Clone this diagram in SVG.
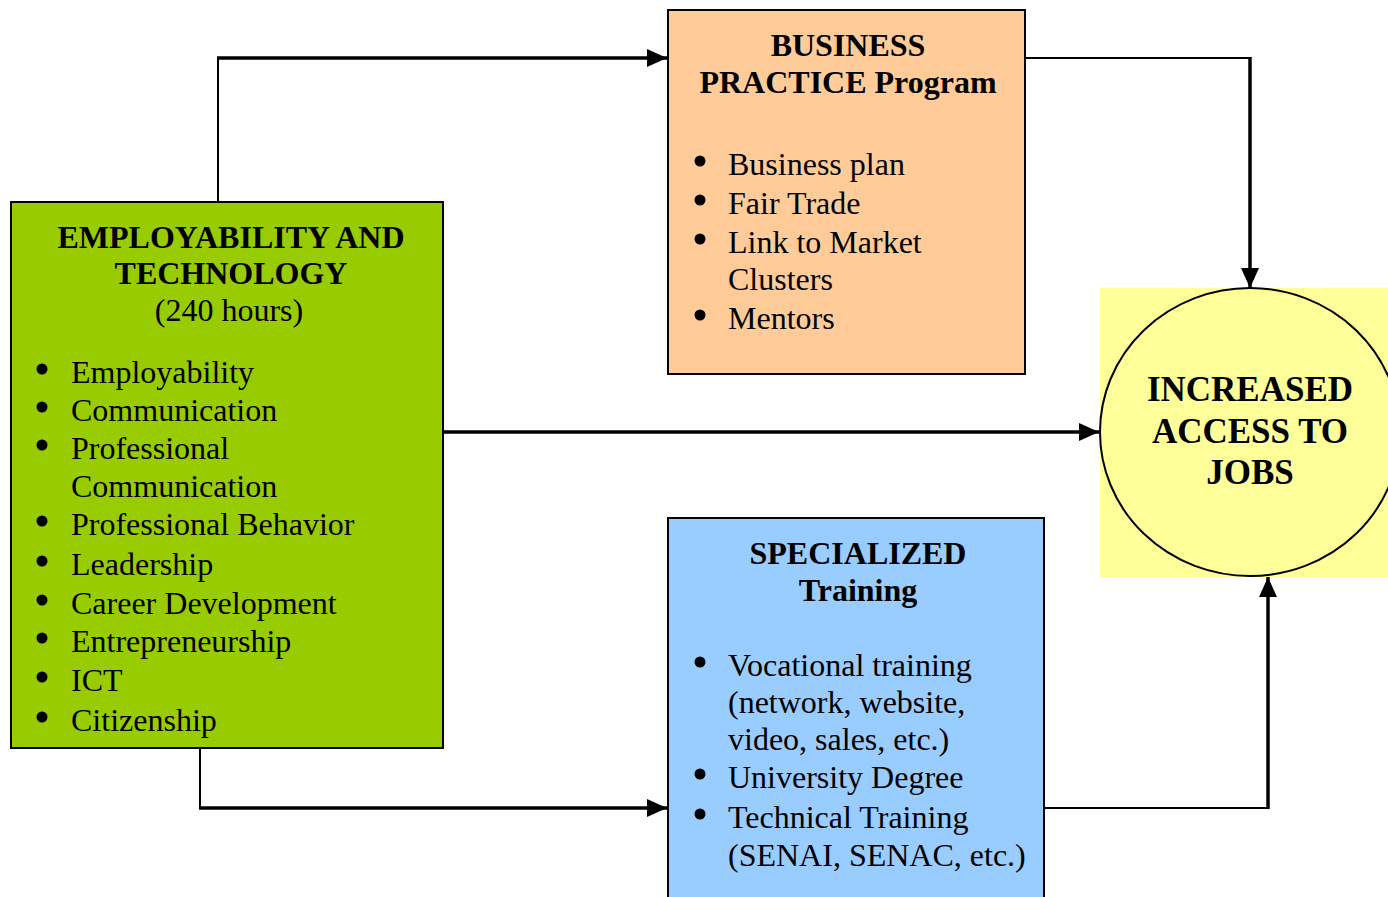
<svg xmlns="http://www.w3.org/2000/svg" width="1388" height="897" viewBox="0 0 1388 897">
<defs>
<marker id="arrb" markerWidth="20" markerHeight="20" refX="20" refY="10" orient="auto" markerUnits="userSpaceOnUse" viewBox="0 0 20 20">
<path d="M0,1 L20,10 L0,19 Z" fill="#000"/>
</marker>
</defs>
<style>
.box{stroke:#000;stroke-width:2}
.t{font-family:"Liberation Serif","Times New Roman",serif;fill:#000}
.h{font-weight:bold;font-size:32px;text-anchor:middle}
.b{font-size:32px}
.j{font-weight:bold;font-size:35px;text-anchor:middle}
.c{fill:none;stroke:#000}
.dot{fill:#000}
</style>
<rect width="1388" height="897" fill="#fff"/>
<g id="connectors">
<path class="c" stroke-width="2" d="M218,202 V58"/>
<path class="c" stroke-width="3.5" d="M217,58 H667" marker-end="url(#arrb)"/>
<path class="c" stroke-width="2" d="M1025,58 H1250"/>
<path class="c" stroke-width="3.5" d="M1250,57 V288" marker-end="url(#arrb)"/>
<path class="c" stroke-width="3.5" d="M443,432 H1099" marker-end="url(#arrb)"/>
<path class="c" stroke-width="2" d="M200,748 V808"/>
<path class="c" stroke-width="3.5" d="M199,808 H667" marker-end="url(#arrb)"/>
<path class="c" stroke-width="2" d="M1044,808 H1268"/>
<path class="c" stroke-width="3.5" d="M1268,809 V577" marker-end="url(#arrb)"/>
</g>
<g id="employability">
<rect class="box" x="11" y="202" width="432" height="546" fill="#99CC00"/>
<text class="t h" x="231" y="248">EMPLOYABILITY AND</text>
<text class="t h" x="231" y="284">TECHNOLOGY</text>
<text class="t b" x="229" y="321" text-anchor="middle">(240 hours)</text>
<g class="dot">
<circle cx="42" cy="369" r="5.5"/>
<circle cx="42" cy="407" r="5.5"/>
<circle cx="42" cy="445" r="5.5"/>
<circle cx="42" cy="521" r="5.5"/>
<circle cx="42" cy="561" r="5.5"/>
<circle cx="42" cy="600" r="5.5"/>
<circle cx="42" cy="638" r="5.5"/>
<circle cx="42" cy="677" r="5.5"/>
<circle cx="42" cy="717" r="5.5"/>
</g>
<g class="t b">
<text x="71" y="383">Employability</text>
<text x="71" y="421">Communication</text>
<text x="71" y="459">Professional</text>
<text x="71" y="497">Communication</text>
<text x="71" y="535">Professional Behavior</text>
<text x="71" y="575">Leadership</text>
<text x="71" y="614">Career Development</text>
<text x="71" y="652">Entrepreneurship</text>
<text x="71" y="691">ICT</text>
<text x="71" y="731">Citizenship</text>
</g>
</g>
<g id="business">
<rect class="box" x="668" y="10" width="357" height="364" fill="#FFCC99"/>
<text class="t h" x="848" y="56">BUSINESS</text>
<text class="t h" x="848" y="93">PRACTICE Program</text>
<g class="dot">
<circle cx="700" cy="161" r="5.5"/>
<circle cx="700" cy="200" r="5.5"/>
<circle cx="700" cy="239" r="5.5"/>
<circle cx="700" cy="315" r="5.5"/>
</g>
<g class="t b">
<text x="728" y="175">Business plan</text>
<text x="728" y="214">Fair Trade</text>
<text x="728" y="253">Link to Market</text>
<text x="728" y="290">Clusters</text>
<text x="728" y="329">Mentors</text>
</g>
</g>
<g id="specialized">
<rect class="box" x="668" y="518" width="376" height="390" fill="#99CCFF"/>
<text class="t h" x="858" y="564">SPECIALIZED</text>
<text class="t h" x="858" y="601">Training</text>
<g class="dot">
<circle cx="700" cy="662" r="5.5"/>
<circle cx="700" cy="774" r="5.5"/>
<circle cx="700" cy="814" r="5.5"/>
</g>
<g class="t b">
<text x="728" y="676">Vocational training</text>
<text x="728" y="713">(network, website,</text>
<text x="728" y="750">video, sales, etc.)</text>
<text x="728" y="788">University Degree</text>
<text x="728" y="828">Technical Training</text>
<text x="728" y="866">(SENAI, SENAC, etc.)</text>
</g>
</g>
<g id="jobs">
<rect x="1100" y="288" width="288" height="289" fill="#FFFF99"/>
<ellipse cx="1250" cy="432" rx="150" ry="144" fill="#FFFF99" stroke="#000" stroke-width="2"/>
<text class="t j" x="1250" y="401">INCREASED</text>
<text class="t j" x="1250" y="443">ACCESS TO</text>
<text class="t j" x="1250" y="484">JOBS</text>
</g>
</svg>
